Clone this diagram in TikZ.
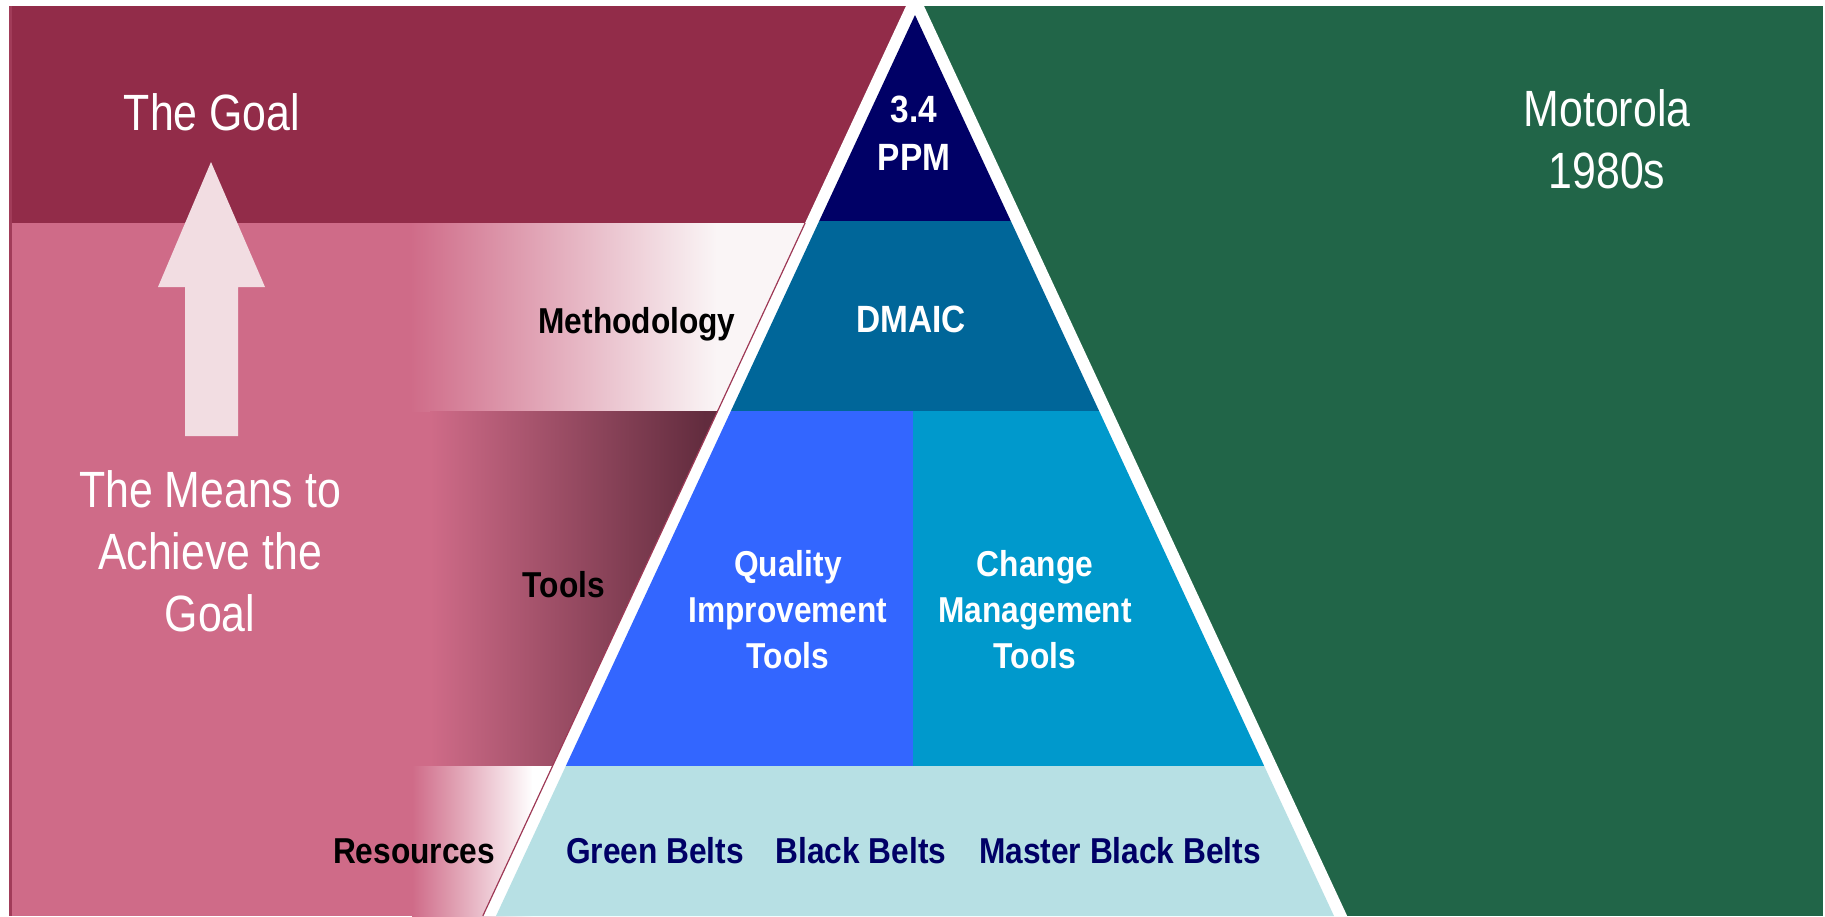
\documentclass[tikz,border=0pt]{standalone}
\usepackage{fontspec}
\setmainfont{Liberation Sans}
\newfontfamily\lblreg[FakeStretch=0.84]{Liberation Sans}
\newfontfamily\lblbold[FakeStretch=0.88]{Liberation Sans}

\definecolor{goalred}{RGB}{146,44,73}
\definecolor{meanspink}{RGB}{207,107,136}
\definecolor{arrowpink}{RGB}{242,221,226}
\definecolor{palepink}{RGB}{250,245,246}
\definecolor{midpink}{RGB}{227,180,194}
\definecolor{toolsdark}{RGB}{98,44,62}
\definecolor{motogreen}{RGB}{33,101,72}
\definecolor{ppmnavy}{RGB}{0,0,102}
\definecolor{dmaicblue}{RGB}{0,102,153}
\definecolor{qualblue}{RGB}{51,102,255}
\definecolor{changeblue}{RGB}{0,153,204}
\definecolor{beltcyan}{RGB}{183,224,228}

\begin{document}
\begin{tikzpicture}[x=1pt,y=-1pt,
  bigtext/.style={font=\lblreg\fontsize{51}{62}\selectfont, text=white,
    align=center, inner sep=0pt, anchor=base},
  tierlabel/.style={font=\lblbold\bfseries\fontsize{36}{46}\selectfont,
    align=center, inner sep=0pt, anchor=base},
  tierlarge/.style={tierlabel, font=\lblbold\bfseries\fontsize{38}{48}\selectfont},
]
\useasboundingbox (0,0) rectangle (1825,916);
\fill[white] (0,0) rectangle (1825,916);

% ---- left panel: goal and means ----
\fill[goalred] (9,6) rectangle (916,223);
\fill[meanspink] (9,223) rectangle (916,916);
% methodology band fading to white
\shade[left color=meanspink, middle color=midpink, right color=palepink]
  (410,223) rectangle (717,411);
\fill[palepink] (716,223) rectangle (916,411);
% tools band fading to dark
\shade[left color=meanspink, right color=toolsdark] (430,411) rectangle (705,766);
\fill[toolsdark] (704,411) rectangle (916,766);
% resources band fading to white
\shade[left color=meanspink, right color=white] (412,766) rectangle (533,916);
\fill[white] (532,766) rectangle (916,916);
% left border
\draw[goalred!75!meanspink, line width=2.5] (10.25,6) -- (10.25,916);

% upward arrow
\fill[arrowpink] (185,436) -- (185,287) -- (158,287) -- (211,162)
  -- (265,287) -- (238,287) -- (238,436) -- cycle;

% ---- right panel ----
\fill[motogreen] (916,6) rectangle (1823,916);

% ---- pyramid ----
\coordinate (outApex) at (915,-13.4);
\coordinate (outL) at (482.8,916);
\coordinate (outR) at (1347.2,916);
\coordinate (outLtop) at (805.1,223);
\coordinate (apex) at (915,15);
\coordinate (L1) at (819.2,221);   \coordinate (R1) at (1010.8,221);
\coordinate (L2) at (730.9,411);   \coordinate (R2) at (1099.1,411);
\coordinate (L3) at (565.8,766);   \coordinate (R3) at (1264.2,766);
\coordinate (L4) at (496,916);     \coordinate (R4) at (1334,916);
\coordinate (D2) at (913,411);     \coordinate (D3) at (913,766);

\fill[white] (outApex) -- (outL) -- (outR) -- cycle;
\draw[goalred!80!meanspink, line width=1.2] (outLtop) -- (outL);

\fill[ppmnavy] (apex) -- (L1) -- (R1) -- cycle;
\fill[dmaicblue] (L1) -- (L2) -- (R2) -- (R1) -- cycle;
\fill[qualblue] (L2) -- (L3) -- (D3) -- (D2) -- cycle;
\fill[changeblue] (D2) -- (D3) -- (R3) -- (R2) -- cycle;
\fill[beltcyan] (L3) -- (L4) -- (R4) -- (R3) -- cycle;

% ---- texts (multi-line nodes sit on the baseline of their last line) ----
\node[bigtext] (goal) at (212,130) {The Goal};
\node[bigtext] (means) at (210,631) {The Means to\\Achieve the\\Goal};
\node[bigtext] (moto) at (1607,188) {Motorola\\1980s};

\node[tierlarge, text=white] (ppm) at (914,170) {3.4\\PPM};
\node[tierlarge, text=white] (dmaic) at (911,332) {DMAIC};
\node[tierlabel, text=white] (qit) at (788,668) {Quality\\Improvement\\Tools};
\node[tierlabel, text=white] (cmt) at (1035,668) {Change\\Management\\Tools};
\node[tierlabel, text=ppmnavy] (gb) at (655,863) {Green Belts};
\node[tierlabel, text=ppmnavy] (bb) at (861,863) {Black Belts};
\node[tierlabel, text=ppmnavy] (mbb) at (1120,863) {Master Black Belts};

\node[tierlabel, text=black] (methlbl) at (637,333) {Methodology};
\node[tierlabel, text=black] (toolslbl) at (564,597) {Tools};
\node[tierlabel, text=black] (reslbl) at (414,863) {Resources};
\end{tikzpicture}
\end{document}
